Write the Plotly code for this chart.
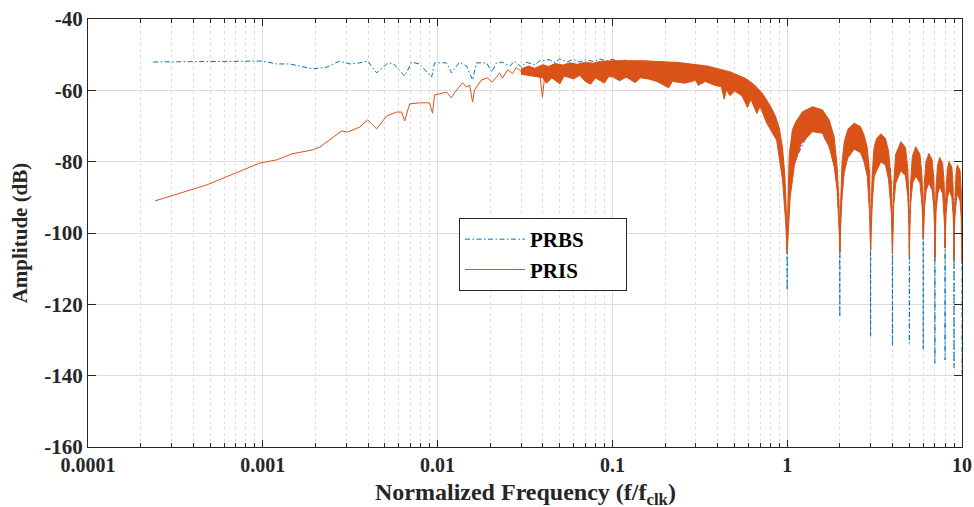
import plotly.graph_objects as go

# ---------------- data ----------------
# PRBS (blue, dash-dot)
prbs_freq = [0.000236, 0.000674, 0.001, 0.0012, 0.001425, 0.00193, 0.00232, 0.00275, 0.00314,
             0.00358, 0.00398, 0.00448, 0.00511, 0.00553, 0.00648, 0.0071, 0.00789, 0.00924,
             0.00961, 0.01125, 0.0120, 0.01336, 0.01465, 0.01585, 0.0167, 0.0191, 0.0204,
             0.0217, 0.0235, 0.0259, 0.0275, 0.0302, 0.032, 0.0362, 0.0381,
             0.0435, 0.047, 0.05, 0.055, 0.06, 0.065, 0.07, 0.078, 0.085, 0.092, 0.1, 0.11, 0.12,
             0.15, 0.3, 0.5, 0.7, 0.85, 0.95,
             0.995, 1.0, 1.005, 1.05, 1.45, 1.9,
             1.995, 2.0, 2.005, 2.1, 2.45, 2.9,
             2.995, 3.0, 3.005, 3.1, 3.43, 3.9,
             3.995, 4.0, 4.005, 4.1, 4.47, 4.9,
             4.995, 5.0, 5.005, 5.1, 5.44, 5.9,
             5.995, 6.0, 6.005, 6.1, 6.47, 6.9,
             6.995, 7.0, 7.005, 7.1, 7.46, 7.9,
             7.995, 8.0, 8.005, 8.1, 8.43, 8.9,
             8.995, 9.0, 9.005, 9.1, 9.4, 9.9,
             9.995, 10.0]
prbs_db = [-52.05, -51.8, -51.8, -52.6, -52.6, -54.0, -53.5, -51.8, -52.6,
           -52.3, -51.8, -55.1, -52.6, -52.3, -56.0, -52.1, -52.6, -56.3,
           -52.3, -52.3, -55.1, -52.1, -53.2, -57.1, -52.3, -52.3, -54.9,
           -52.3, -52.1, -53.2, -51.8, -53.5, -52.1, -52.9, -51.8,
           -51.4, -52.3, -51.2, -52.0, -51.3, -52.1, -51.4, -51.9, -51.2, -51.8, -51.3, -51.9, -51.5,
           -52.5, -54.0, -57.0, -62.0, -69.0, -80.0,
           -100, -116.0, -100, -82, -68, -80,
           -100, -123.5, -100, -82, -73, -80,
           -100, -129.1, -100, -84, -76, -82,
           -100, -131.7, -100, -86, -78, -85,
           -100, -130.9, -100, -87, -80, -87,
           -100, -132.8, -100, -88, -81, -89,
           -100, -136.5, -100, -89, -83, -90,
           -100, -135.6, -100, -90, -84, -91,
           -100, -137.8, -100, -91, -85, -92,
           -100, -139.5]

# PRIS (orange) - low-frequency line
pris_freq = [0.000242, 0.000479, 0.00096, 0.0012, 0.00147, 0.00193, 0.00212, 0.00251, 0.00283,
             0.00306, 0.00358, 0.00398, 0.00448, 0.00511, 0.00583, 0.00623, 0.00648, 0.00692,
             0.00789, 0.00899, 0.00935, 0.00961, 0.01125, 0.0120, 0.0125, 0.0139, 0.01465,
             0.01524, 0.01585, 0.01626, 0.01782, 0.0193, 0.0204, 0.0217, 0.0226, 0.0235,
             0.0252, 0.0268, 0.0282, 0.0294, 0.0315, 0.0336, 0.036, 0.0383, 0.0398, 0.0414, 0.045]
pris_db = [-91.0, -86.5, -80.4, -79.5, -77.8, -76.7, -75.9, -73.4, -71.4,
           -71.7, -70.3, -68.3, -70.8, -67.2, -66.1, -66.1, -68.6, -63.8,
           -63.5, -63.5, -66.4, -61.3, -60.5, -62.1, -60.7, -57.9, -59.1,
           -58.5, -63.3, -59.9, -57.1, -56.5, -57.7, -56.3, -55.1, -56.6,
           -54.2, -55.3, -53.6, -54.3, -55.6, -53.7, -54.8, -54.9, -61.9, -54.0, -54.5]

# PRIS (orange) - dense high-frequency band: upper and lower envelopes
pris_upper_freq = [0.03, 0.033, 0.036, 0.04, 0.043, 0.047, 0.052, 0.057, 0.063, 0.07, 0.077, 0.085,
                   0.1, 0.15, 0.24, 0.35, 0.47, 0.58,
                   0.65, 0.72, 0.78, 0.82, 0.86, 0.9, 0.94, 0.97, 0.99, 1.0,
                   1.01, 1.027, 1.072, 1.121, 1.223, 1.395, 1.591, 1.738, 1.856, 1.931, 1.98, 2.0,
                   2.02, 2.06, 2.12, 2.22, 2.415, 2.63, 2.75, 2.87, 2.96, 2.985, 3.0,
                   3.02, 3.06, 3.14, 3.25, 3.43, 3.65, 3.8, 3.93, 3.98, 4.0,
                   4.02, 4.07, 4.17, 4.47, 4.75, 4.9, 4.97, 5.0,
                   5.03, 5.08, 5.2, 5.44, 5.75, 5.9, 5.97, 6.0,
                   6.03, 6.09, 6.22, 6.47, 6.75, 6.9, 6.97, 7.0,
                   7.03, 7.1, 7.25, 7.46, 7.75, 7.9, 7.97, 8.0,
                   8.03, 8.1, 8.25, 8.43, 8.75, 8.9, 8.97, 9.0,
                   9.03, 9.1, 9.25, 9.4, 9.75, 9.9, 9.97, 10.0]
pris_upper_db = [-54.0, -53.2, -53.8, -52.8, -53.3, -52.5, -52.9, -52.3, -52.7, -52.1, -52.4, -51.9,
                 -51.7, -51.7, -52.2, -53.2, -54.8, -56.7,
                 -58.5, -60.8, -63.5, -65.3, -67.5, -70.5, -76.0, -84.0, -95.0, -105.6,
                 -92, -78, -71, -68.8, -66, -64.6, -65.5, -68.3, -73, -81.4, -92, -105.6,
                 -92, -80, -74.5, -71, -69.2, -70.2, -72.5, -76, -83, -92, -104.8,
                 -94, -84, -76, -73.5, -72.2, -73.5, -77, -85, -94, -105.7,
                 -95, -86, -78, -74.4, -76, -82, -92, -106.2,
                 -94, -86, -78.5, -75.8, -78, -84, -92, -101.4,
                 -94, -86, -80, -77.7, -79.5, -85, -94, -107,
                 -95, -87, -81, -78.8, -80.5, -86, -94, -104.2,
                 -95, -88, -82, -80, -81.5, -87, -95, -107.6,
                 -96, -89, -83, -80.9, -82.5, -88, -96, -108.5]
pris_lower_freq = [0.03, 0.035, 0.04, 0.042, 0.045, 0.05, 0.053, 0.06, 0.065, 0.07, 0.075, 0.08,
                   0.09, 0.095, 0.1, 0.11, 0.12, 0.135, 0.145, 0.16, 0.18, 0.2, 0.21, 0.22, 0.26,
                   0.3, 0.31, 0.34, 0.38, 0.42, 0.436, 0.45, 0.47, 0.5, 0.55, 0.593, 0.62, 0.67, 0.7,
                   0.76, 0.87, 0.94, 0.98, 1.0,
                   1.015, 1.04, 1.1, 1.2, 1.395, 1.591, 1.738, 1.856, 1.931, 1.985, 2.0,
                   2.015, 2.05, 2.12, 2.22, 2.415, 2.63, 2.75, 2.87, 2.965, 3.0,
                   3.02, 3.07, 3.15, 3.43, 3.65, 3.8, 3.95, 4.0,
                   4.02, 4.07, 4.18, 4.47, 4.75, 4.9, 4.975, 5.0,
                   5.02, 5.08, 5.22, 5.44, 5.75, 5.9, 5.975, 6.0,
                   6.025, 6.1, 6.24, 6.47, 6.75, 6.9, 6.975, 7.0,
                   7.025, 7.1, 7.27, 7.46, 7.75, 7.9, 7.975, 8.0,
                   8.025, 8.1, 8.27, 8.43, 8.75, 8.9, 8.975, 9.0,
                   9.025, 9.1, 9.27, 9.4, 9.75, 9.9, 9.975, 10.0]
pris_lower_db = [-55.5, -56.0, -56.5, -58.0, -56.5, -58.2, -56.0, -56.8, -55.8, -57.5, -58.3, -56.5,
                 -58.0, -56.2, -56.2, -57.3, -56.3, -57.8, -56.5, -56.8, -57.5, -58.8, -59.3, -57.5, -58.0,
                 -57.2, -58.6, -57.5, -58.5, -59.0, -62.5, -59.8, -61.5, -60.2, -61.5, -64.8, -62.5, -66.5, -64.5,
                 -69.0, -74.0, -85.0, -97.0, -105.6,
                 -100, -90, -81, -75, -71.6, -72, -75.8, -81.4, -88, -100, -105.6,
                 -100, -91, -83, -79, -76.5, -77.5, -80, -84, -95, -104.8,
                 -100, -91, -84, -80, -81, -85, -95, -105.7,
                 -101, -92, -86, -82.5, -84, -90, -98, -106.2,
                 -98, -92, -86, -84, -86, -92, -97, -101.4,
                 -101, -93, -88, -86, -88, -93, -100, -107,
                 -101, -94, -89, -87, -89, -94, -99, -104.2,
                 -100, -95, -90, -88, -90, -95, -101, -107.6,
                 -102, -96, -91, -89, -91, -96, -102, -108.5]

x_tickvals = [0.0001, 0.001, 0.01, 0.1, 1, 10]
x_ticktext = ["0.0001", "0.001", "0.01", "0.1", "1", "10"]
y_tickvals = [-160, -140, -120, -100, -80, -60, -40]
y_ticktext = ["-160", "-140", "-120", "-100", "-80", "-60", "-40"]

x_title = "Normalized Frequency (f/f<sub>clk</sub>)"
y_title = "Amplitude (dB)"

# ---------------- styling ----------------
BLUE = "#0072BD"
ORANGE = "#D95319"
AX = "#262626"
FONT = "Liberation Serif"
NB = "\u00a0"

minor_vals = [m * 10 ** e for e in range(-4, 1) for m in range(2, 10)]

fig = go.Figure()

fig.add_trace(go.Scatter(
    x=prbs_freq, y=prbs_db, mode="lines", name="PRBS" + NB * 7,
    line=dict(color=BLUE, width=1, dash="5px,2.5px,1.5px,2.5px"),
))

band_x = pris_upper_freq + pris_lower_freq[::-1]
band_y = pris_upper_db + pris_lower_db[::-1]
fig.add_trace(go.Scatter(
    x=band_x, y=band_y, mode="lines", fill="toself", fillcolor=ORANGE,
    line=dict(color=ORANGE, width=1), showlegend=False, hoverinfo="skip",
))

fig.add_trace(go.Scatter(
    x=pris_freq, y=pris_db, mode="lines", name="PRIS" + NB * 7,
    line=dict(color=ORANGE, width=1),
))

fig.update_layout(
    width=974, height=507,
    margin=dict(l=88, r=12, t=19, b=60),
    paper_bgcolor="white", plot_bgcolor="white",
    font=dict(family=FONT, color=AX, size=18),
    showlegend=True,
    legend=dict(
        x=0.4245, y=0.535, xanchor="left", yanchor="top",
        bgcolor="white", bordercolor=AX, borderwidth=1,
        font=dict(family=FONT, size=21, color="black", weight="bold"),
        itemwidth=60, tracegroupgap=0,
    ),
    annotations=[dict(
        text=x_title, xref="paper", yref="paper", x=0.5, y=-0.070,
        xanchor="center", yanchor="top", showarrow=False,
        font=dict(family=FONT, size=24, color=AX, weight="bold"),
    )],
)

fig.update_xaxes(
    type="log", range=[-4, 1], automargin=False,
    tickmode="array", tickvals=x_tickvals, ticktext=x_ticktext,
    tickfont=dict(family=FONT, size=20, color=AX, weight="bold"),
    ticklabelstandoff=0,
    ticks="inside", ticklen=7, tickcolor=AX, tickwidth=1,
    showline=True, linecolor=AX, linewidth=1.3, mirror="ticks",
    showgrid=True, gridcolor="#dcdcdc", gridwidth=1,
    minor=dict(tickmode="array", tickvals=minor_vals, ticks="inside", ticklen=4,
               tickcolor=AX, showgrid=True, gridcolor="#dedede", griddash="dot", gridwidth=1),
    zeroline=False,
)

fig.update_yaxes(
    range=[-160, -40], automargin=False,
    tickmode="array", tickvals=y_tickvals, ticktext=y_ticktext,
    tickfont=dict(family=FONT, size=21, color=AX, weight="bold"),
    ticks="inside", ticklen=8, tickcolor=AX, tickwidth=1,
    showline=True, linecolor=AX, linewidth=1.3, mirror="ticks",
    showgrid=True, gridcolor="#dcdcdc", gridwidth=1,
    zeroline=False,
    title=dict(text=y_title,
               font=dict(family=FONT, size=21, color=AX, weight="bold"), standoff=10),
)

fig.write_html("out.html")
